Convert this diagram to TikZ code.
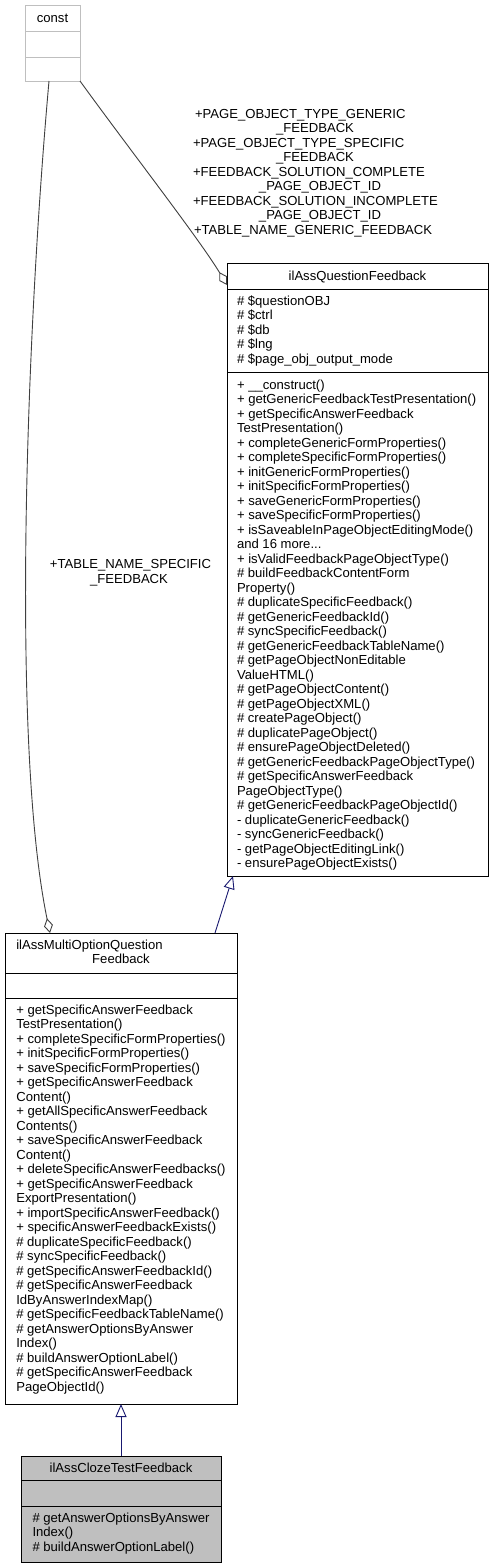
\documentclass[tikz,border=0pt]{standalone}
\usepackage{fontspec}
\setmainfont{Liberation Sans}
\usetikzlibrary{arrows.meta}
\definecolor{greyS}{HTML}{BFBFBF}
\definecolor{greyE}{HTML}{404040}
\definecolor{navyE}{HTML}{191970}
\newcommand\dgfs{\fontsize{13.1}{14.5}\selectfont}
\newcommand\firststrut{\rule{0pt}{11pt}}
\begin{document}
\begin{tikzpicture}[x=1pt,y=-1pt,
  box/.style={draw=black, line width=1pt, fill=white, inner sep=0pt, outer sep=0pt, anchor=north west},
  divider/.style={draw=black, line width=1pt},
  classtxt/.style={font=\dgfs, inner sep=0pt, outer sep=0pt, align=left, anchor=north west, text=black},
  lbl/.style={font=\dgfs, inner sep=0pt, outer sep=0pt, text=black},
  inh/.style={draw=navyE, line width=0.9pt, -{Triangle[length=13pt, width=11pt, fill=white]}},
  agg/.style={draw=greyE, line width=0.9pt, {Diamond[length=15pt, width=9pt, fill=white]}-}
]
\useasboundingbox (0,0) rectangle (493,1567);
\fill[white] (0,0) rectangle (493,1567);

% const
\node[box, draw=greyS, minimum width=55pt, minimum height=76pt] (const) at (25,5) {};
\draw[divider, draw=greyS] ([yshift=-26pt]const.north west) -- ([yshift=-26pt]const.north east);
\draw[divider, draw=greyS] ([yshift=-52pt]const.north west) -- ([yshift=-52pt]const.north east);
\node[lbl, anchor=base] (constT) at (52.5,22) {const};

% ilAssQuestionFeedback
\node[box, minimum width=261pt, minimum height=613pt] (qf) at (227,263) {};
\draw[divider] ([yshift=-26pt]qf.north west) -- ([yshift=-26pt]qf.north east);
\draw[divider] ([yshift=-109pt]qf.north west) -- ([yshift=-109pt]qf.north east);
\node[lbl, anchor=base] (qfT) at (357.5,280) {ilAssQuestionFeedback};
\node[classtxt] (qfA) at (237,294) {\firststrut\# \$questionOBJ\\
\# \$ctrl\\
\# \$db\\
\# \$lng\\
\# \$page\_obj\_output\_mode};
\node[classtxt] (qfM) at (237,378) {\firststrut+ \_\_construct()\\
+ getGenericFeedbackTestPresentation()\\
+ getSpecificAnswerFeedback\\
TestPresentation()\\
+ completeGenericFormProperties()\\
+ completeSpecificFormProperties()\\
+ initGenericFormProperties()\\
+ initSpecificFormProperties()\\
+ saveGenericFormProperties()\\
+ saveSpecificFormProperties()\\
+ isSaveableInPageObjectEditingMode()\\
and 16 more...\\
+ isValidFeedbackPageObjectType()\\
\# buildFeedbackContentForm\\
Property()\\
\# duplicateSpecificFeedback()\\
\# getGenericFeedbackId()\\
\# syncSpecificFeedback()\\
\# getGenericFeedbackTableName()\\
\# getPageObjectNonEditable\\
ValueHTML()\\
\# getPageObjectContent()\\
\# getPageObjectXML()\\
\# createPageObject()\\
\# duplicatePageObject()\\
\# ensurePageObjectDeleted()\\
\# getGenericFeedbackPageObjectType()\\
\# getSpecificAnswerFeedback\\
PageObjectType()\\
\# getGenericFeedbackPageObjectId()\\
- duplicateGenericFeedback()\\
- syncGenericFeedback()\\
- getPageObjectEditingLink()\\
- ensurePageObjectExists()};

% ilAssMultiOptionQuestionFeedback
\node[box, minimum width=232pt, minimum height=471pt] (multi) at (5,933) {};
\draw[divider] ([yshift=-40pt]multi.north west) -- ([yshift=-40pt]multi.north east);
\draw[divider] ([yshift=-65pt]multi.north west) -- ([yshift=-65pt]multi.north east);
\node[lbl, anchor=base west] (multiT1) at (16.3,949) {ilAssMultiOptionQuestion};
\node[lbl, anchor=base] (multiT2) at (121,963.5) {Feedback};
\node[classtxt] (multiM) at (16.3,1003) {\firststrut+ getSpecificAnswerFeedback\\
TestPresentation()\\
+ completeSpecificFormProperties()\\
+ initSpecificFormProperties()\\
+ saveSpecificFormProperties()\\
+ getSpecificAnswerFeedback\\
Content()\\
+ getAllSpecificAnswerFeedback\\
Contents()\\
+ saveSpecificAnswerFeedback\\
Content()\\
+ deleteSpecificAnswerFeedbacks()\\
+ getSpecificAnswerFeedback\\
ExportPresentation()\\
+ importSpecificAnswerFeedback()\\
+ specificAnswerFeedbackExists()\\
\# duplicateSpecificFeedback()\\
\# syncSpecificFeedback()\\
\# getSpecificAnswerFeedbackId()\\
\# getSpecificAnswerFeedback\\
IdByAnswerIndexMap()\\
\# getSpecificFeedbackTableName()\\
\# getAnswerOptionsByAnswer\\
Index()\\
\# buildAnswerOptionLabel()\\
\# getSpecificAnswerFeedback\\
PageObjectId()};

% ilAssClozeTestFeedback
\node[box, fill=greyS, minimum width=200pt, minimum height=106pt] (cloze) at (21,1456) {};
\draw[divider] ([yshift=-24pt]cloze.north west) -- ([yshift=-24pt]cloze.north east);
\draw[divider] ([yshift=-50pt]cloze.north west) -- ([yshift=-50pt]cloze.north east);
\node[lbl, anchor=base] (clozeT) at (121,1472) {ilAssClozeTestFeedback};
\node[classtxt] (clozeM) at (32.5,1511) {\firststrut\# getAnswerOptionsByAnswer\\
Index()\\
\# buildAnswerOptionLabel()};

% inheritance edges
\draw[inh] (cloze.north) -- (multi.south);
\draw[inh] ([xshift=94pt]multi.north) -- ([xshift=6pt]qf.south west);

% aggregation edges
\draw[agg] ([yshift=-22pt]qf.north west) .. controls (200,240) and (130,150) .. (const.south east);
\draw[agg] ([xshift=-71pt]multi.north) .. controls (12,750) and (25,350) .. ([xshift=-3.5pt]const.south);

% edge labels
\node[lbl, anchor=base west] (l1) at (195,118) {+PAGE\_OBJECT\_TYPE\_GENERIC};
\node[lbl, anchor=base] (l2) at (315,132.5) {\_FEEDBACK};
\node[lbl, anchor=base west] (l3) at (193,147) {+PAGE\_OBJECT\_TYPE\_SPECIFIC};
\node[lbl, anchor=base] (l4) at (315,161.5) {\_FEEDBACK};
\node[lbl, anchor=base west] (l5) at (193,176) {+FEEDBACK\_SOLUTION\_COMPLETE};
\node[lbl, anchor=base] (l6) at (320,190.5) {\_PAGE\_OBJECT\_ID};
\node[lbl, anchor=base west] (l7) at (193,205) {+FEEDBACK\_SOLUTION\_INCOMPLETE};
\node[lbl, anchor=base] (l8) at (320,219.5) {\_PAGE\_OBJECT\_ID};
\node[lbl, anchor=base west] (l9) at (194,234) {+TABLE\_NAME\_GENERIC\_FEEDBACK};
\node[lbl, anchor=base] (m1) at (130.5,568.5) {+TABLE\_NAME\_SPECIFIC};
\node[lbl, anchor=base] (m2) at (129,583) {\_FEEDBACK};
\end{tikzpicture}
\end{document}
